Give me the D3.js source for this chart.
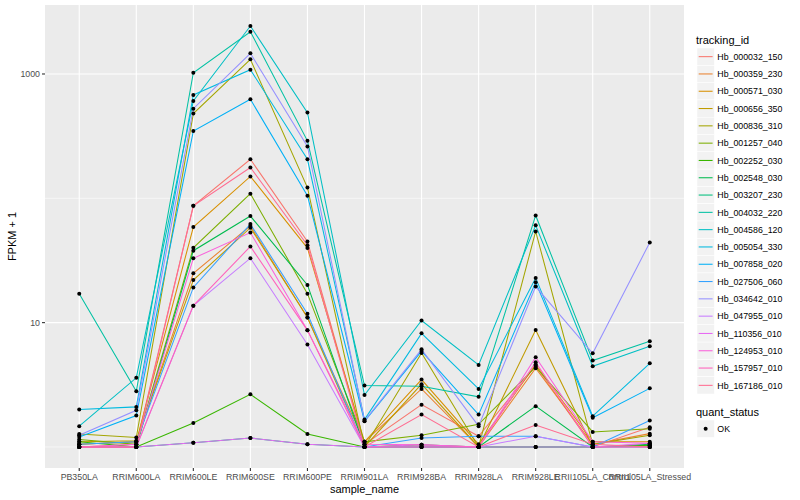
<!DOCTYPE html>
<html>
<head>
<meta charset="utf-8">
<script src="https://cdn.jsdelivr.net/npm/d3@7"></script>
<style>
  body { margin: 0; background: #fff; }
  svg { font-family: 'Liberation Sans', Arial, sans-serif; }
  .tick-label { fill: #4d4d4d; font-size: 8.8px; }
  .axis-title { fill: #000; font-size: 11px; }
  .legend-label { fill: #000; font-size: 8.8px; }
</style>
</head>
<body>
<svg class="chart"></svg>
<script>
const samples = ['PB350LA', 'RRIM600LA', 'RRIM600LE', 'RRIM600SE', 'RRIM600PE', 'RRIM901LA',
  'RRIM928BA', 'RRIM928LA', 'RRIM928LE', 'RRII105LA_Control', 'RRII105LA_Stressed']

const trackingIds = ['Hb_000032_150', 'Hb_000359_230', 'Hb_000571_030', 'Hb_000656_350', 'Hb_000836_310',
  'Hb_001257_040', 'Hb_002252_030', 'Hb_002548_030', 'Hb_003207_230', 'Hb_004032_220',
  'Hb_004586_120', 'Hb_005054_330', 'Hb_007858_020', 'Hb_027506_060', 'Hb_034642_010',
  'Hb_047955_010', 'Hb_110356_010', 'Hb_124953_010', 'Hb_157957_010', 'Hb_167186_010']

// FPKM per gene, one value per sample (same order as samples)
const fpkm_000032_150 = [0, 0.05, 86, 205, 44, 0.05, 1.19, 0.22, 3.5, 0, 0.44]
const fpkm_000359_230 = [0.05, 0.1, 23.9, 59, 10, 0.1, 1.93, 0, 3.3, 0.05, 0.28]
const fpkm_000571_030 = [0.05, 0.1, 57.7, 149, 38.8, 0.1, 2.48, 0.05, 3.6, 0.1, 0.1]
const fpkm_000656_350 = [0.1, 0.12, 21, 57, 10, 0, 2.2, 0, 7.74, 0, 0.03]
const fpkm_000836_310 = [0.27, 0.19, 479, 1311, 121, 0, 4.7, 0, 53.1, 0.05, 0.24]
const fpkm_001257_040 = [0.15, 0.05, 39, 108, 16.1, 0.1, 0.24, 0.52, 3.4, 0.32, 0.4]
const fpkm_002252_030 = [0.1, 0, 0.56, 1.65, 0.27, 0, 0.04, 0, 0, 0, 0.03]
const fpkm_002548_030 = [0, 0, 36.9, 71, 19.1, 0, 0, 0, 1.13, 0, 0.05]
const fpkm_003207_230 = [0, 0, 0.08, 0.18, 0.05, 0, 0, 0, 0, 0, 0]
const fpkm_004032_220 = [16.1, 1.8, 1023, 2185, 289, 2.12, 2.08, 1.53, 71.8, 3.95, 6.07]
const fpkm_004586_120 = [0.47, 2.6, 606, 2429, 488, 1.62, 9.4, 3.57, 59.6, 3.46, 5.45]
const fpkm_005054_330 = [1.0, 1.1, 677, 1081, 205, 0.66, 7.2, 1.93, 21.9, 0.77, 3.71]
const fpkm_007858_020 = [0.2, 0.79, 347, 625, 104, 0.61, 4.9, 0.82, 20.1, 0.72, 1.96]
const fpkm_027506_060 = [0.05, 0.1, 18.2, 61, 10.8, 0, 0.18, 0.22, 0.22, 0, 0.63]
const fpkm_034642_010 = [0.24, 0.97, 525, 1465, 260, 0.62, 5.1, 0.47, 18.5, 4.66, 43.1]
const fpkm_047955_010 = [0, 0, 12.7, 32, 5.66, 0, 0, 0, 0.22, 0, 0]
const fpkm_110356_010 = [0, 0, 0.08, 0.18, 0.05, 0, 0.04, 0, 0, 0, 0.07]
const fpkm_124953_010 = [0, 0.05, 31.9, 52, 7.67, 0.05, 0.04, 0, 4.27, 0.1, 0.07]
const fpkm_157957_010 = [0, 0, 12.7, 40, 7.67, 0, 0, 0, 3.8, 0, 0]
const fpkm_167186_010 = [0, 0, 86, 176, 41, 0, 0.82, 0, 0.5, 0.05, 0]

const yTicks = [10, 1000]
const yMinor = [1, 100]
const quantStatus = ['OK']

const allFpkm = [fpkm_000032_150, fpkm_000359_230, fpkm_000571_030, fpkm_000656_350, fpkm_000836_310,
  fpkm_001257_040, fpkm_002252_030, fpkm_002548_030, fpkm_003207_230, fpkm_004032_220,
  fpkm_004586_120, fpkm_005054_330, fpkm_007858_020, fpkm_027506_060, fpkm_034642_010,
  fpkm_047955_010, fpkm_110356_010, fpkm_124953_010, fpkm_157957_010, fpkm_167186_010]

// ggplot hue palette, 20 levels
const colours = ['#F8766D', '#EA8331', '#D89000', '#C09B00', '#A3A500', '#7CAE00', '#39B600', '#00BB4E',
  '#00BF7D', '#00C1A3', '#00BFC4', '#00BAE0', '#00B0F6', '#35A2FF', '#9590FF', '#C77CFF',
  '#E76BF3', '#FA62DB', '#FF62BC', '#FF6C91']

const series = trackingIds.map((id, i) => ({
  id,
  colour: colours[i],
  values: samples.map((s, j) => ({ sample: s, v: allFpkm[i][j] + 1 }))
}))

const width = 800
const height = 500
const panel = { left: 45, right: 684, top: 5, bottom: 468 }

const svg = d3.select('.chart').attr('width', width).attr('height', height)

const xScale = d3.scalePoint()
  .domain(samples)
  .range([panel.left, panel.right])
  .padding(0.6)

const vals = series.flatMap(s => s.values.map(d => d.v))
const lo = Math.log10(d3.min(vals))
const hi = Math.log10(d3.max(vals))
const pad = (hi - lo) * 0.05

const yScale = d3.scaleLog()
  .domain([Math.pow(10, lo - pad), Math.pow(10, hi + pad)])
  .range([panel.bottom, panel.top])

svg.append('rect')
  .attr('x', panel.left).attr('y', panel.top)
  .attr('width', panel.right - panel.left).attr('height', panel.bottom - panel.top)
  .attr('fill', '#ebebeb')

svg.selectAll('.minor')
  .data(yMinor)
  .enter()
  .append('line')
  .attr('x1', panel.left).attr('x2', panel.right)
  .attr('y1', d => yScale(d)).attr('y2', d => yScale(d))
  .attr('stroke', '#fff').attr('stroke-width', 0.55)

svg.selectAll('.major')
  .data(yTicks)
  .enter()
  .append('line')
  .attr('x1', panel.left).attr('x2', panel.right)
  .attr('y1', d => yScale(d)).attr('y2', d => yScale(d))
  .attr('stroke', '#fff').attr('stroke-width', 1.1)

svg.selectAll('.vgrid')
  .data(samples)
  .enter()
  .append('line')
  .attr('x1', d => xScale(d)).attr('x2', d => xScale(d))
  .attr('y1', panel.top).attr('y2', panel.bottom)
  .attr('stroke', '#fff').attr('stroke-width', 1.1)

const lineGen = d3.line()
  .x(d => xScale(d.sample))
  .y(d => yScale(d.v))

svg.selectAll('.series')
  .data(series)
  .enter()
  .append('path')
  .attr('d', d => lineGen(d.values))
  .attr('fill', 'none')
  .attr('stroke', d => d.colour)
  .attr('stroke-width', 1.05)

svg.selectAll('.pt')
  .data(series.flatMap(s => s.values))
  .enter()
  .append('circle')
  .attr('cx', d => xScale(d.sample))
  .attr('cy', d => yScale(d.v))
  .attr('r', 2)
  .attr('fill', '#000')

// y axis
const yG = svg.selectAll('.ytick')
  .data(yTicks)
  .enter()
  .append('g')
  .attr('transform', d => `translate(${panel.left}, ${yScale(d)})`)

yG.append('line').attr('x1', -3).attr('x2', 0).attr('stroke', '#333').attr('stroke-width', 1.1)
yG.append('text')
  .text(d => d)
  .attr('x', -5)
  .attr('y', 3.2)
  .style('text-anchor', 'end')
  .attr('class', 'tick-label')

// x axis
const xG = svg.selectAll('.xtick')
  .data(samples)
  .enter()
  .append('g')
  .attr('transform', d => `translate(${xScale(d)}, ${panel.bottom})`)

xG.append('line').attr('y1', 0).attr('y2', 3).attr('stroke', '#333').attr('stroke-width', 1.1)
xG.append('text')
  .text(d => d)
  .attr('y', 12)
  .style('text-anchor', 'middle')
  .attr('class', 'tick-label')

svg.append('text')
  .text('sample_name')
  .attr('x', (panel.left + panel.right) / 2)
  .attr('y', 493)
  .style('text-anchor', 'middle')
  .attr('class', 'axis-title')

svg.append('text')
  .text('FPKM + 1')
  .attr('transform', `translate(16, ${(panel.top + panel.bottom) / 2}) rotate(-90)`)
  .style('text-anchor', 'middle')
  .attr('class', 'axis-title')

// legend: tracking_id
const legX = 697
const keySize = 17.3
const legY = 48

svg.append('text')
  .text('tracking_id')
  .attr('x', legX - 1)
  .attr('y', 44)
  .attr('class', 'axis-title')

const keys = svg.selectAll('.key')
  .data(series)
  .enter()
  .append('g')
  .attr('transform', (d, i) => `translate(${legX}, ${legY + i * keySize})`)

keys.append('rect')
  .attr('width', keySize).attr('height', keySize)
  .attr('fill', '#f2f2f2').attr('stroke', '#fff').attr('stroke-width', 0.5)
keys.append('line')
  .attr('x1', 1.7).attr('x2', keySize - 1.7)
  .attr('y1', keySize / 2).attr('y2', keySize / 2)
  .attr('stroke', d => d.colour).attr('stroke-width', 1.05)
keys.append('text')
  .text(d => d.id)
  .attr('x', keySize + 3)
  .attr('y', keySize / 2 + 3.2)
  .attr('class', 'legend-label')

// legend: quant_status
svg.append('text')
  .text('quant_status')
  .attr('x', legX - 1)
  .attr('y', 416)
  .attr('class', 'axis-title')

const qKeys = svg.selectAll('.qkey')
  .data(quantStatus)
  .enter()
  .append('g')
  .attr('transform', (d, i) => `translate(${legX}, ${420 + i * keySize})`)

qKeys.append('rect')
  .attr('width', keySize).attr('height', keySize)
  .attr('fill', '#f2f2f2').attr('stroke', '#fff').attr('stroke-width', 0.5)
qKeys.append('circle')
  .attr('cx', keySize / 2).attr('cy', keySize / 2).attr('r', 2)
  .attr('fill', '#000')
qKeys.append('text')
  .text(d => d)
  .attr('x', keySize + 3)
  .attr('y', keySize / 2 + 3.2)
  .attr('class', 'legend-label')
</script>
</body>
</html>
